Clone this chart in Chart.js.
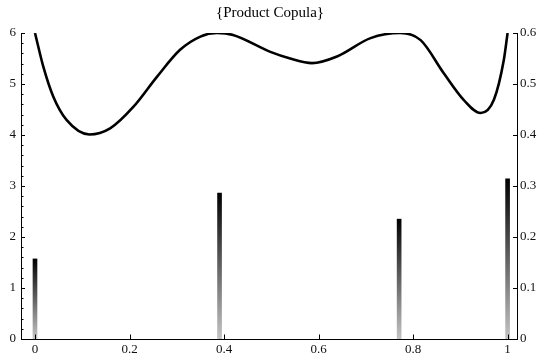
<!DOCTYPE html>
<html>
<head>
<meta charset="utf-8">
<script src="https://cdn.jsdelivr.net/npm/chart.js@4"></script>
<style>
  html, body { margin: 0; padding: 0; background: #fff; }
  #wrap { width: 540px; height: 357px; }
</style>
</head>
<body>
<div id="wrap"><canvas id="myChart" width="540" height="357"></canvas></div>
<script>
// curve (left axis units)
var curveX = [0, 0.0176, 0.0388, 0.0672, 0.115, 0.159, 0.208, 0.258, 0.307, 0.350, 0.385,
              0.419, 0.498, 0.540, 0.586, 0.639, 0.710, 0.773, 0.816, 0.865, 0.907, 0.943,
              0.971, 0.992, 1.0];
var curveY = [6.0, 5.34, 4.75, 4.29, 4.01, 4.13, 4.55, 5.14, 5.67, 5.93, 6.0,
              5.96, 5.63, 5.50, 5.41, 5.54, 5.90, 6.0, 5.86, 5.21, 4.69, 4.43,
              4.69, 5.47, 6.0];

// spikes
var barX = [0, 0.3905, 0.7705, 1.0];
var barY = [1.57, 2.86, 2.35, 3.14];

var xTicks = [0, 0.2, 0.4, 0.6, 0.8, 1];
var leftTicks = [0, 1, 2, 3, 4, 5, 6];
var rightTicks = [0, 0.1, 0.2, 0.3, 0.4, 0.5, 0.6];

var serif = 'Liberation Serif, Times New Roman, serif';

var curveData = curveX.map(function (x, i) { return { x: x, y: curveY[i] }; });
var barData = barX.map(function (x, i) { return { x: x, y: barY[i] }; });

function barGradient(context) {
    var chart = context.chart;
    if (!chart.chartArea || !context.raw) return '#000';
    var y = chart.scales.y;
    var top = y.getPixelForValue(context.raw.y);
    var bottom = y.getPixelForValue(0);
    var g = chart.ctx.createLinearGradient(0, top, 0, bottom);
    g.addColorStop(0, '#000000');
    g.addColorStop(1, '#c4c4c4');
    return g;
}

// inward frame ticks, Mathematica style
var innerTicks = {
    id: 'innerTicks',
    afterDraw: function (chart) {
        var ctx = chart.ctx, a = chart.chartArea;
        ctx.save();
        ctx.strokeStyle = '#000';
        ctx.lineWidth = 1;
        ctx.beginPath();
        // left: major every 1, minor every 0.2
        for (var v = 0; v <= 6.0001; v += 0.2) {
            var py = Math.round(chart.scales.y.getPixelForValue(v)) + 0.5;
            var major = Math.abs(v - Math.round(v)) < 1e-6;
            ctx.moveTo(a.left, py);
            ctx.lineTo(a.left + (major ? 4 : 2.5), py);
        }
        rightTicks.forEach(function (t) {
            var py = Math.round(chart.scales.y2.getPixelForValue(t)) + 0.5;
            ctx.moveTo(a.right, py);
            ctx.lineTo(a.right - 4, py);
        });
        xTicks.forEach(function (t) {
            var px = Math.round(chart.scales.x.getPixelForValue(t)) + 0.5;
            ctx.moveTo(px, a.bottom);
            ctx.lineTo(px, a.bottom - 4.5);
        });
        ctx.stroke();
        ctx.restore();
    }
};

var ctx = document.getElementById('myChart');
var myChart = new Chart(ctx, {
    data: {
        datasets: [{
            type: 'line',
            label: 'curve',
            data: curveData,
            borderColor: '#000',
            borderWidth: 2.6,
            pointRadius: 0,
            fill: false,
            cubicInterpolationMode: 'monotone',
            yAxisID: 'y',
            order: 0
        }, {
            type: 'bar',
            label: 'spikes',
            data: barData,
            backgroundColor: barGradient,
            borderWidth: 0,
            barThickness: 4,
            yAxisID: 'y',
            order: 1
        }]
    },
    plugins: [innerTicks],
    options: {
        responsive: false,
        animation: false,
        layout: { padding: 0 },
        plugins: {
            legend: { display: false },
            tooltip: { enabled: false },
            title: {
                display: true,
                text: '{Product Copula}',
                color: '#000',
                font: { family: serif, size: 15, weight: 'normal', lineHeight: 1.2 },
                padding: { top: 4, bottom: 11 }
            }
        },
        scales: {
            x: {
                type: 'linear',
                min: -0.0296,
                max: 1.0199,
                offset: false,
                afterBuildTicks: function (s) { s.ticks = xTicks.map(function (v) { return { value: v }; }); },
                afterFit: function (s) { s.height = 18; },
                grid: { display: false, drawTicks: false },
                border: { display: true, color: '#000', width: 1 },
                ticks: {
                    color: '#111',
                    font: { family: serif, size: 13 },
                    padding: 3,
                    maxRotation: 0,
                    callback: function (v) { return String(+v.toFixed(1)); }
                }
            },
            y: {
                type: 'linear',
                position: 'left',
                min: 0,
                max: 6,
                afterBuildTicks: function (s) { s.ticks = leftTicks.map(function (v) { return { value: v }; }); },
                afterFit: function (s) { s.width = 21; },
                grid: { display: false, drawTicks: false },
                border: { display: true, color: '#000', width: 1 },
                ticks: {
                    color: '#111',
                    font: { family: serif, size: 13 },
                    padding: 5
                }
            },
            y2: {
                type: 'linear',
                position: 'right',
                min: 0,
                max: 0.6,
                afterBuildTicks: function (s) { s.ticks = rightTicks.map(function (v) { return { value: v }; }); },
                afterFit: function (s) { s.width = 23; },
                grid: { display: false, drawTicks: false },
                border: { display: true, color: '#000', width: 1 },
                ticks: {
                    color: '#111',
                    font: { family: serif, size: 13 },
                    padding: 3,
                    callback: function (v) { return String(+v.toFixed(1)); }
                }
            }
        }
    }
});
</script>
</body>
</html>
